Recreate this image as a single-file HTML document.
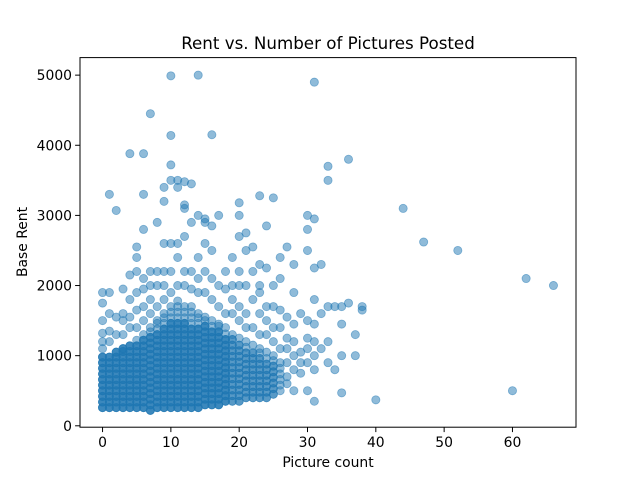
<!DOCTYPE html>
<html><head><meta charset="utf-8"><style>
html,body{margin:0;padding:0;background:#fff;}
svg text{font-family:"DejaVu Sans","Liberation Sans",sans-serif;fill:#000;}
</style></head><body>
<svg id="chart" width="640" height="480" xmlns="http://www.w3.org/2000/svg">
<rect width="640" height="480" fill="#fff"/>
<text x="328" y="49" font-size="16.7" text-anchor="middle">Rent vs. Number of Pictures Posted</text>
<g id="points"></g>
<rect x="80" y="57.6" width="496" height="369.6" fill="none" stroke="#000" stroke-width="1"/>
<g id="axes"></g>
<text x="328" y="467" font-size="13.9" text-anchor="middle">Picture count</text>
<text transform="translate(27,242) rotate(-90)" font-size="13.9" text-anchor="middle">Base Rent</text>
</svg>
<script>
const pictureCounts = [0,1,2,3,4,5,6,7,8,9,10,11,12,13,14,15,16,17,18,19,20,21,22,23,24,25,26,27,28,29,30,31,32,33,34,35,36,37,38,40,44,47,52,60,62,66];
const rentsByCount = [
[260,340,420,500,580,660,740,820,900,980,1100,1200,1320,1500,1750,1900],
[260,340,420,500,580,660,740,820,900,980,1200,1350,1600,1900,3300],
[260,340,420,500,580,660,740,820,900,980,1050,1300,1550,3070],
[260,340,420,500,580,660,740,820,900,980,1060,1100,1300,1500,1600,1950],
[260,340,420,500,580,660,740,820,900,980,1060,1140,1400,1550,1800,2150,3880],
[260,340,420,500,580,660,740,820,900,980,1060,1140,1220,1400,1650,1900,2200,2400,2550],
[260,340,420,500,580,660,740,820,900,980,1060,1140,1220,1300,1500,1700,1950,2100,2800,3300,3880],
[220,300,380,460,540,620,700,780,860,940,1020,1100,1180,1260,1340,1400,1600,1800,2000,2200,4450],
[260,340,420,500,580,660,740,820,900,980,1060,1140,1220,1300,1380,1460,1500,1700,2000,2200,2900],
[260,340,420,500,580,660,740,820,900,980,1060,1140,1220,1300,1380,1460,1540,1600,1800,2000,2200,2600,3200,3400],
[260,340,420,500,580,660,740,820,900,980,1060,1140,1220,1300,1380,1460,1540,1620,1700,1900,2200,2600,3500,3720,4140,4990],
[260,340,420,500,580,660,740,820,900,980,1060,1140,1220,1300,1380,1460,1540,1620,1700,1780,2000,2400,2600,3400,3500],
[260,340,420,500,580,660,740,820,900,980,1060,1140,1220,1300,1380,1460,1540,1620,1700,2000,2200,2700,3100,3150,3480],
[260,340,420,500,580,660,740,820,900,980,1060,1140,1220,1300,1380,1460,1540,1620,1700,1950,2200,2900,3450],
[260,340,420,500,580,660,740,820,900,980,1060,1140,1220,1300,1380,1460,1540,1600,1900,2100,2400,3000,5000],
[300,380,460,540,620,700,780,860,940,1020,1100,1180,1260,1340,1420,1500,1550,1900,2200,2600,2900,2950],
[300,380,460,540,620,700,780,860,940,1020,1100,1180,1260,1340,1420,1500,1800,2100,2500,2850,4150],
[300,380,460,540,620,700,780,860,940,1020,1100,1180,1260,1340,1420,1450,1700,2000,3000],
[350,430,510,590,670,750,830,910,990,1070,1150,1230,1310,1400,1600,1950,2200],
[350,430,510,590,670,750,830,910,990,1070,1150,1230,1300,1600,1800,2000,2400],
[350,430,510,590,670,750,830,910,990,1070,1150,1250,1500,1700,2000,2200,2700,3000,3180],
[400,480,560,640,720,800,880,960,1040,1120,1200,1400,1600,2000,2500,2750],
[400,480,560,640,720,800,880,960,1040,1150,1400,1800,2200,2550],
[400,480,560,640,720,800,880,960,1040,1100,1300,1600,1900,2000,2300,3280],
[400,480,560,640,720,800,880,960,1050,1300,1500,1700,2250,2850],
[450,530,610,690,770,850,930,1000,1200,1400,1700,2000,3250],
[500,580,660,740,820,900,1100,1400,1650,2100,2400],
[600,700,900,1100,1250,1550,2550],
[500,800,1000,1200,1450,1900,2300],
[750,900,1050,1600],
[500,900,1100,1250,1500,2500,2800,3000],
[350,800,1000,1200,1450,1800,2250,2950,4900],
[1100,1600,2300],
[900,1200,1700,3500,3700],
[800,1700],
[470,1000,1450,1700],
[1750,3800],
[1000,1300],
[1650,1700],
[370],[3100],[2620],[2500],[500],[2100],[2000]
];
// rents at or below this level are repeated listings (several posts per value)
const coreTop = [1000,1000,1050,1100,1150,1200,1250,1300,1350,1450,1500,1500,1500,1450,1450,1420,1400,1350,1300,1250,1200,1100,1050,1000,950,900,0,0,0,0,0,0,0,0,0,0,0,0,0,0,0,0,0,0,0,0];
const coreRepeats = [3,3,3,3,3,3,3,3,3,3,3,3,3,3,3,3,3,3,3,2,2,2,2,2,2,2,1,1,1,1,1,1,1,1,1,1,1,1,1,1,1,1,1,1,1,1];
const xTicks = [0,10,20,30,40,50,60];
const yTicks = [0,1000,2000,3000,4000,5000];

const X0=80,X1=576,Y0=427.2,Y1=57.6;
const xMin=-3.3,xMax=69.3,yMin=-20,yMax=5250;
function sx(v){return X0+(v-xMin)/(xMax-xMin)*(X1-X0);}
function sy(v){return Y0-(v-yMin)/(yMax-yMin)*(Y0-Y1);}
const NS="http://www.w3.org/2000/svg";
const pg=document.getElementById('points');
pictureCounts.forEach((c,i)=>{
  rentsByCount[i].forEach(r=>{
    const n = r<=coreTop[i] ? coreRepeats[i] : 1;
    for(let k=0;k<n;k++){
      const el=document.createElementNS(NS,'circle');
      el.setAttribute('cx',sx(c));el.setAttribute('cy',sy(r));el.setAttribute('r',4.1);
      el.setAttribute('fill','#1f77b4');el.setAttribute('fill-opacity','0.5');
      el.setAttribute('stroke','#1f77b4');el.setAttribute('stroke-opacity','0.5');el.setAttribute('stroke-width','0.8');
      
      
      pg.appendChild(el);
    }
  });
});
const ag=document.getElementById('axes');
xTicks.forEach(t=>{
  const x=sx(t);
  const l=document.createElementNS(NS,'line');
  l.setAttribute('x1',x);l.setAttribute('x2',x);l.setAttribute('y1',Y0);l.setAttribute('y2',Y0+4.9);l.setAttribute('stroke','#000');
  
  
  ag.appendChild(l);
  const tx=document.createElementNS(NS,'text');
  tx.setAttribute('x',x);tx.setAttribute('y',Y0+20);tx.setAttribute('font-size','13.9');tx.setAttribute('text-anchor','middle');
  tx.textContent=t;
  
  
  ag.appendChild(tx);
});
yTicks.forEach(t=>{
  const y=sy(t);
  const l=document.createElementNS(NS,'line');
  l.setAttribute('x1',X0-4.9);l.setAttribute('x2',X0);l.setAttribute('y1',y);l.setAttribute('y2',y);l.setAttribute('stroke','#000');
  
  
  ag.appendChild(l);
  const tx=document.createElementNS(NS,'text');
  tx.setAttribute('x',X0-8);tx.setAttribute('y',y+5);tx.setAttribute('font-size','13.9');tx.setAttribute('text-anchor','end');
  tx.textContent=t;
  
  
  ag.appendChild(tx);
});
</script>
</body></html>
